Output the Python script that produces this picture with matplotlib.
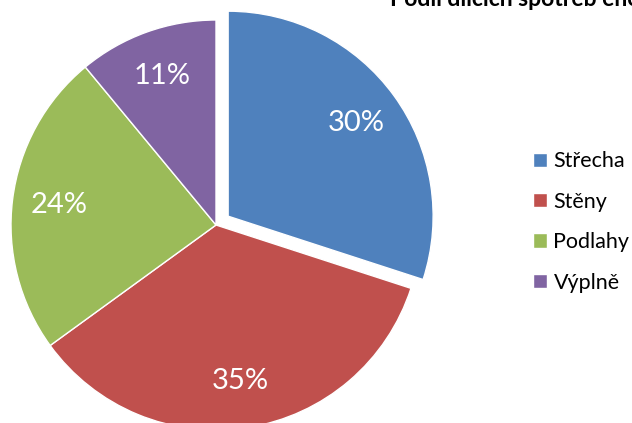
import matplotlib.pyplot as plt

# Data
kategorie = ["Střecha", "Stěny", "Podlahy", "Výplně"]
podil = [30, 35, 24, 11]
barvy = ["#4F81BD", "#C0504D", "#9BBB59", "#8064A2"]
vysunuti = [15, 0, 0, 0]

titulek = "Podíl dílčích spotřeb energie"

plt.rcParams['font.family'] = ['Lato', 'DejaVu Sans']

fig = plt.figure(figsize=(6.32, 4.23), dpi=100)
ax = fig.add_axes([0, 0, 1, 1])

wedges, texts, autotexts = ax.pie(
    podil,
    colors=barvy,
    explode=vysunuti,
    startangle=90,
    counterclock=False,
    center=(216, 198),
    radius=205,
    autopct="%d%%",
    pctdistance=0.77,
    wedgeprops=dict(edgecolor="white", linewidth=1),
    textprops=dict(color="white", fontsize=21),
)

ax.set_xlim(0, 632)
ax.set_ylim(0, 423)
ax.set_aspect("equal")
ax.axis("off")

# Titulek (orizly nahore)
ax.text(390, 417, titulek, fontsize=16.5, fontweight="bold",
        ha="left", va="baseline", color="black")

# Legenda
ax.legend(
    wedges, kategorie,
    loc="center left",
    bbox_to_anchor=(533 / 632, 1 - 222 / 423),
    bbox_transform=fig.transFigure,
    frameon=False,
    fontsize=15.5,
    borderpad=0,
    borderaxespad=0,
    handlelength=0.65,
    handleheight=0.65,
    handletextpad=0.3,
    labelspacing=0.95,
)

fig.savefig("out.png", dpi=100)
